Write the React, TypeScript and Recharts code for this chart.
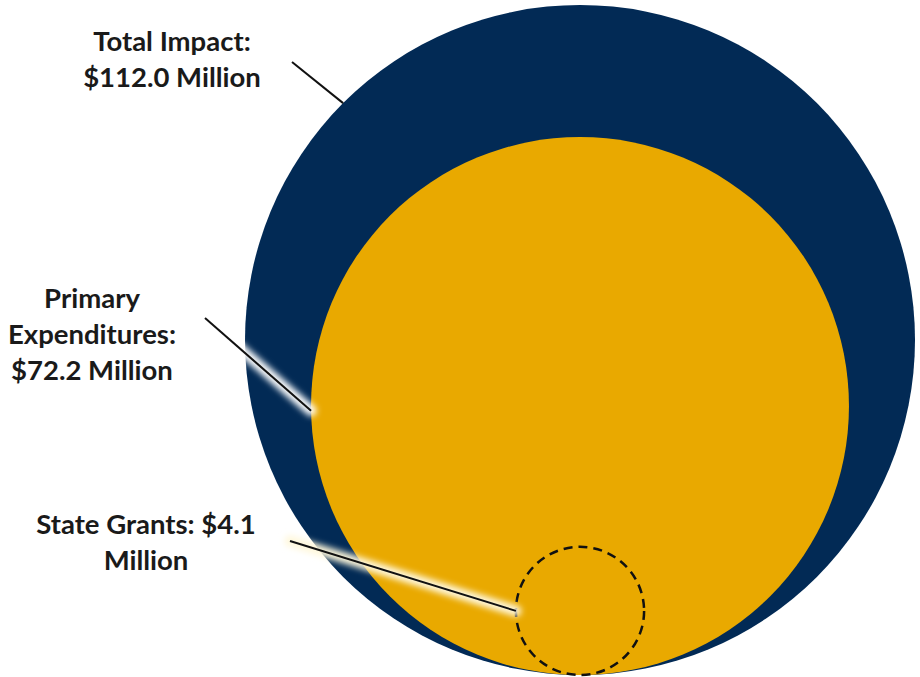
import { ScatterChart, Scatter, XAxis, YAxis, ZAxis } from "recharts";

// values in $ million, nested circles sized by area
const categories = ["Total Impact", "Primary Expenditures", "State Grants"];
const values = [112.0, 72.2, 4.1];
const labelLines = [
  ["Total Impact:", "$112.0 Million"],
  ["Primary", "Expenditures:", "$72.2 Million"],
  ["State Grants: $4.1", "Million"],
];

const maxValue = Math.max(...values);
const MAX_R = 335;

// label anchor + where the leader line leaves the circle (degrees)
const annotations = [
  { textX: 172, textY: 51, fromX: 292, fromY: 62, angle: 135, glow: false },
  { textX: 92, textY: 308, fromX: 205, fromY: 318, angle: 181, glow: true },
  { textX: 146, textY: 534, fromX: 290, fromY: 541, angle: 180, glow: true },
];

const seriesStyle = [
  { fill: "#022a55", stroke: "none", dash: undefined, glowColor: "#ffffff" },
  { fill: "#e9a900", stroke: "none", dash: undefined, glowColor: "#ffffff" },
  { fill: "none", stroke: "#111111", dash: "9 6", glowColor: "#fff8dc" },
];

const seriesData = categories.map((name, i) => [
  { name, x: 0, y: Math.sqrt(values[i]), value: values[i] },
]);

function Bubble(props: any) {
  const { cx, cy, width, size, series } = props;
  const r = width ? width / 2 : Math.sqrt(Math.max(size || 0, 0) / Math.PI);
  const st = seriesStyle[series];
  const a = annotations[series];
  const rad = (a.angle * Math.PI) / 180;
  const ex = cx + r * Math.cos(rad);
  const ey = cy - r * Math.sin(rad);
  const fid = `glow-${series}`;
  return (
    <g>
      <circle
        cx={cx}
        cy={cy}
        r={r}
        fill={st.fill}
        stroke={st.stroke}
        strokeWidth={st.stroke === "none" ? 0 : 2.5}
        strokeDasharray={st.dash}
      />
      {a.glow && (
        <>
          <defs>
            <filter id={fid} x="-20%" y="-50%" width="140%" height="200%">
              <feGaussianBlur stdDeviation="3" />
            </filter>
          </defs>
          <line
            x1={a.fromX}
            y1={a.fromY}
            x2={ex}
            y2={ey}
            stroke={st.glowColor}
            strokeWidth={11}
            strokeLinecap="round"
            filter={`url(#${fid})`}
          />
        </>
      )}
      <line x1={a.fromX} y1={a.fromY} x2={ex} y2={ey} stroke="#111111" strokeWidth={2} />
      <text
        x={a.textX}
        y={a.textY}
        textAnchor="middle"
        fontFamily="Lato, 'Open Sans', sans-serif"
        fontWeight={700}
        fontSize={27.5}
        fill="#1a1a1a"
      >
        {labelLines[series].map((ln, k) => (
          <tspan key={k} x={a.textX} dy={k === 0 ? 0 : 36}>
            {ln}
          </tspan>
        ))}
      </text>
    </g>
  );
}

export default function App() {
  return (
    <div style={{ position: "absolute", left: 0, top: 0, background: "#fff" }}>
      <ScatterChart
        width={920}
        height={677}
        margin={{ top: 5, right: 5, bottom: 2, left: 245 }}
      >
        <XAxis type="number" dataKey="x" domain={[-1, 1]} hide />
        <YAxis type="number" dataKey="y" domain={[0, 2 * Math.sqrt(maxValue)]} hide />
        <ZAxis
          type="number"
          dataKey="value"
          domain={[0, maxValue]}
          range={[0, Math.PI * MAX_R * MAX_R]}
        />
        {seriesData.map((d, i) => (
          <Scatter
            key={categories[i]}
            name={categories[i]}
            data={d}
            isAnimationActive={false}
            shape={(p: any) => <Bubble {...p} series={i} />}
          />
        ))}
      </ScatterChart>
    </div>
  );
}
